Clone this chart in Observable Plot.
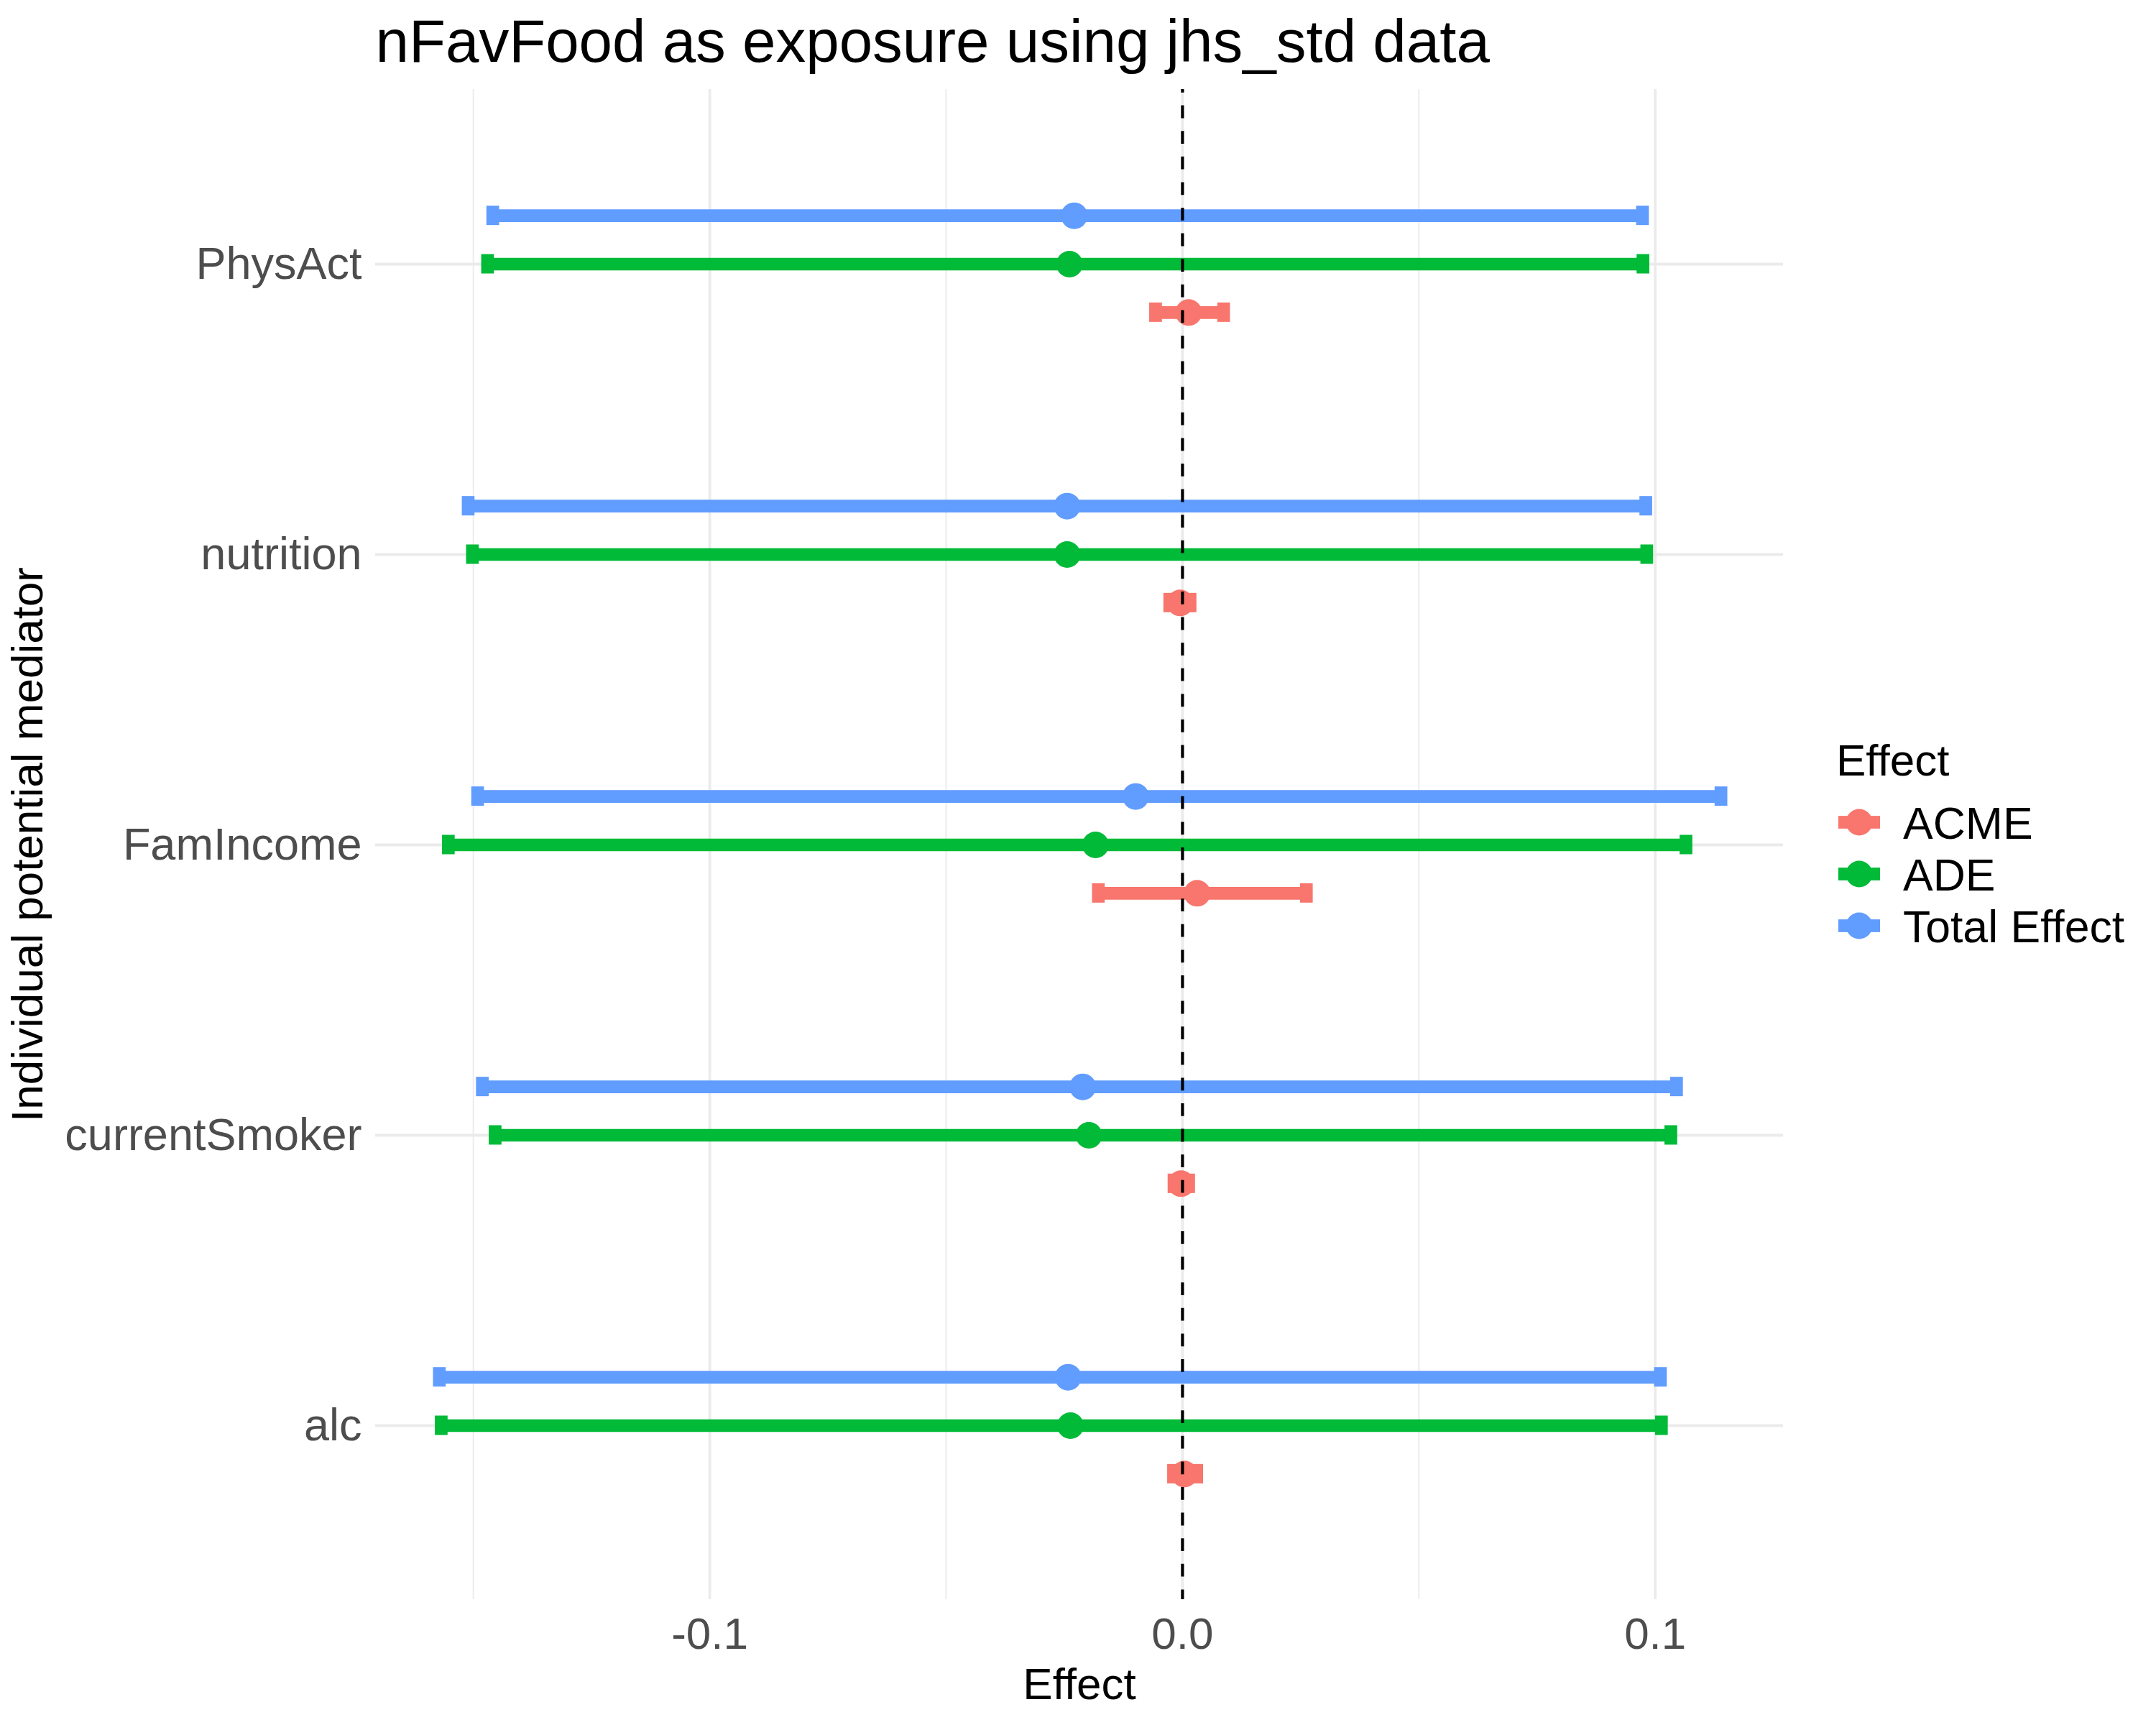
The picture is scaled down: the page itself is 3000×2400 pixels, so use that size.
<!DOCTYPE html>
<html>
<head>
<meta charset="utf-8">
<script src="https://cdn.jsdelivr.net/npm/d3@7"></script>
<script src="https://cdn.jsdelivr.net/npm/@observablehq/plot@0.6"></script>
<style>
  body { margin: 0; background: #fff; }
  #wrap { position: relative; width: 3000px; height: 2400px; font-family: "Liberation Sans", Arial, Helvetica, sans-serif; }
  #wrap > svg.main { position: absolute; left: 0; top: 0; }
  #legend { position: absolute; left: 2500px; top: 1000px; }
</style>
</head>
<body>
<div id="wrap"></div>
<script>
// ---- data ----
const titleText = "nFavFood as exposure using jhs_std data";
const xTitle = "Effect";
const yTitle = "Individual potential mediator";
const legendTitle = "Effect";

const mediators = ["PhysAct", "nutrition", "FamIncome", "currentSmoker", "alc"]; // top to bottom
const effects = ["ACME", "ADE", "Total Effect"];
const colors = ["#F8766D", "#00BA38", "#619CFF"];

const acmeEst = [0.0013, -0.0005, 0.0031, -0.0003, 0.0004];
const acmeLo  = [-0.0057, -0.0027, -0.0178, -0.0018, -0.0019];
const acmeHi  = [0.0087, 0.0016, 0.0262, 0.0013, 0.0030];

const adeEst = [-0.0239, -0.0244, -0.0184, -0.0198, -0.0237];
const adeLo  = [-0.1470, -0.1502, -0.1553, -0.1454, -0.1568];
const adeHi  = [0.0974, 0.0982, 0.1065, 0.1033, 0.1013];

const totEst = [-0.0229, -0.0244, -0.0099, -0.0211, -0.0242];
const totLo  = [-0.1459, -0.1511, -0.1491, -0.1481, -0.1572];
const totHi  = [0.0973, 0.0980, 0.1139, 0.1045, 0.1011];

const xTicks = [-0.1, 0, 0.1];
const xMinor = [-0.15, -0.05, 0.05];
const xDomain = [-0.1707, 0.1271];

// ---- table built from the arrays ----
const seriesVals = {
  "ACME": [acmeEst, acmeLo, acmeHi],
  "ADE": [adeEst, adeLo, adeHi],
  "Total Effect": [totEst, totLo, totHi]
};
const rows = [];
effects.forEach(e => {
  const [est, lo, hi] = seriesVals[e];
  mediators.forEach((m, i) => rows.push({mediator: m, effect: e, est: est[i], lo: lo[i], hi: hi[i]}));
});

// ---- layout ----
const W = 3000, H = 2400;
const mL = 522, mR = 519, mT = 124, mB = 175;
const pad = 0.6;
const step = (H - mT - mB) / (mediators.length - 1 + 2 * pad);
const dodge = step * 0.5 / 3;
const offsets = {"ACME": dodge, "ADE": 0, "Total Effect": -dodge};
const lw = 17.7, capHalf = 13.5, dotR = 18.5;
const grid = "#EBEBEB";
const fontFam = '"Liberation Sans", Arial, Helvetica, sans-serif';

const dataMarks = effects.flatMap(e => {
  const d = rows.filter(r => r.effect === e);
  const dy = offsets[e];
  return [
    Plot.ruleY(d, {y: "mediator", x1: "lo", x2: "hi", stroke: "effect", strokeWidth: lw, dy}),
    Plot.ruleX(d, {x: "lo", y1: "mediator", y2: "mediator", stroke: "effect", strokeWidth: lw, insetTop: -capHalf, insetBottom: -capHalf, dy}),
    Plot.ruleX(d, {x: "hi", y1: "mediator", y2: "mediator", stroke: "effect", strokeWidth: lw, insetTop: -capHalf, insetBottom: -capHalf, dy}),
    Plot.dot(d, {x: "est", y: "mediator", r: dotR, fill: "effect", stroke: null, dy})
  ];
});

const chart = Plot.plot({
  width: W,
  height: H,
  marginLeft: mL, marginRight: mR, marginTop: mT, marginBottom: mB,
  style: {background: "white", fontFamily: fontFam, fontSize: "62px", overflow: "visible"},
  x: {domain: xDomain, label: null},
  y: {type: "point", domain: mediators, padding: pad, label: null},
  color: {domain: effects, range: colors},
  marks: [
    Plot.ruleX(xMinor, {stroke: grid, strokeWidth: 1.9}),
    Plot.ruleX(xTicks, {stroke: grid, strokeWidth: 3.8}),
    Plot.ruleY(mediators, {stroke: grid, strokeWidth: 3.8}),
    ...dataMarks,
    Plot.ruleX([0], {stroke: "#000", strokeWidth: 4.2, strokeDasharray: "17.8,17.8", strokeDashoffset: 13}),
    Plot.axisX({ticks: xTicks, tickFormat: d => d.toFixed(1), tickSize: 0, tickPadding: 24, fontSize: 62, color: "#4D4D4D", label: null}),
    Plot.axisY({tickSize: 0, tickPadding: 19, fontSize: 63, color: "#4D4D4D", label: null}),
    Plot.text([xTitle], {frameAnchor: "bottom", dy: 138, lineAnchor: "bottom", textAnchor: "middle", fontSize: 62, fill: "black"}),
    Plot.text([yTitle], {frameAnchor: "left", dx: 58 - mL, rotate: -90, lineAnchor: "bottom", textAnchor: "middle", fontSize: 62, fill: "black"}),
    Plot.text([titleText], {frameAnchor: "top-left", dy: 85 - mT, lineAnchor: "bottom", textAnchor: "start", fontSize: 83.5, fill: "black"})
  ]
});
chart.classList.add("main");
document.getElementById("wrap").appendChild(chart);

// ---- legend (right side) ----
const lg = d3.select("#wrap").append("svg")
  .attr("id", "legend").attr("width", 500).attr("height", 400)
  .style("font-family", fontFam);
lg.append("text").attr("x", 55).attr("y", 79).attr("font-size", 62).attr("fill", "black").text(legendTitle);
effects.forEach((e, i) => {
  const cy = 144 + i * 72;
  const g = lg.append("g");
  g.append("rect").attr("x", 58).attr("y", cy - lw / 2).attr("width", 58).attr("height", lw).attr("fill", colors[i]);
  g.append("circle").attr("cx", 87).attr("cy", cy).attr("r", dotR).attr("fill", colors[i]);
  g.append("text").attr("x", 148).attr("y", cy + 23).attr("font-size", 62.5).attr("fill", "black").text(e);
});
</script>
</body>
</html>
